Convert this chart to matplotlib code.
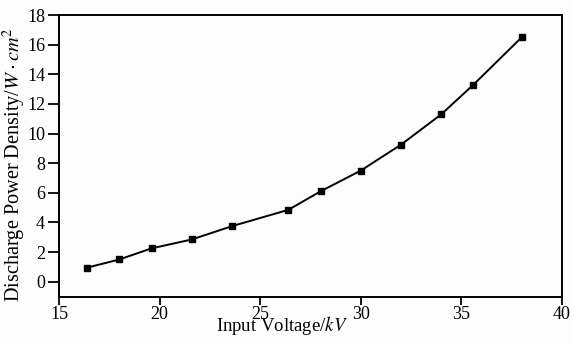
import matplotlib
matplotlib.use('Agg')
import matplotlib.pyplot as plt

# 数据
voltage = [16.4, 18.0, 19.6, 21.6, 23.6, 26.4, 28.0, 30.0, 32.0, 34.0, 35.6, 38.0]
power_density = [0.95, 1.5, 2.25, 2.85, 3.75, 4.85, 6.1, 7.5, 9.25, 11.3, 13.3, 16.5]
x_ticks = [15, 20, 25, 30, 35, 40]
y_ticks = [0, 2, 4, 6, 8, 10, 12, 14, 16, 18]

plt.rcParams['font.family'] = ['Liberation Serif', 'DejaVu Serif']
plt.rcParams['mathtext.fontset'] = 'stix'

fig = plt.figure(figsize=(5.72, 3.42), dpi=100)
fig.patch.set_facecolor('#fdfdfd')
ax = fig.add_axes([0.1031, 0.133, 0.8794, 0.823])
ax.set_facecolor('#fcfcfd')

ax.plot(voltage, power_density, '-s', color='black', linewidth=1.4,
        markersize=4.8)

ax.set_xlim(15, 40)
ax.set_ylim(-1, 18)
ax.set_xticks(x_ticks)
ax.set_yticks(y_ticks)
ax.tick_params(direction='out', length=6, width=1.3, labelsize=13,
               top=False, right=False)
ax.tick_params(axis='x', pad=1)
ax.tick_params(axis='y', length=8, pad=2)
for s in ax.spines.values():
    s.set_linewidth(1.4)

ax.set_xlabel('Input Voltage/$kV$', fontsize=13.5)
ax.xaxis.set_label_coords(0.443, -0.062)
ax.set_ylabel(r'Discharge Power Density/$W \cdot cm^2$', fontsize=14.6)
ax.yaxis.set_label_coords(-0.062, 0.47)

plt.savefig('out.png', dpi=100)
plt.close()
